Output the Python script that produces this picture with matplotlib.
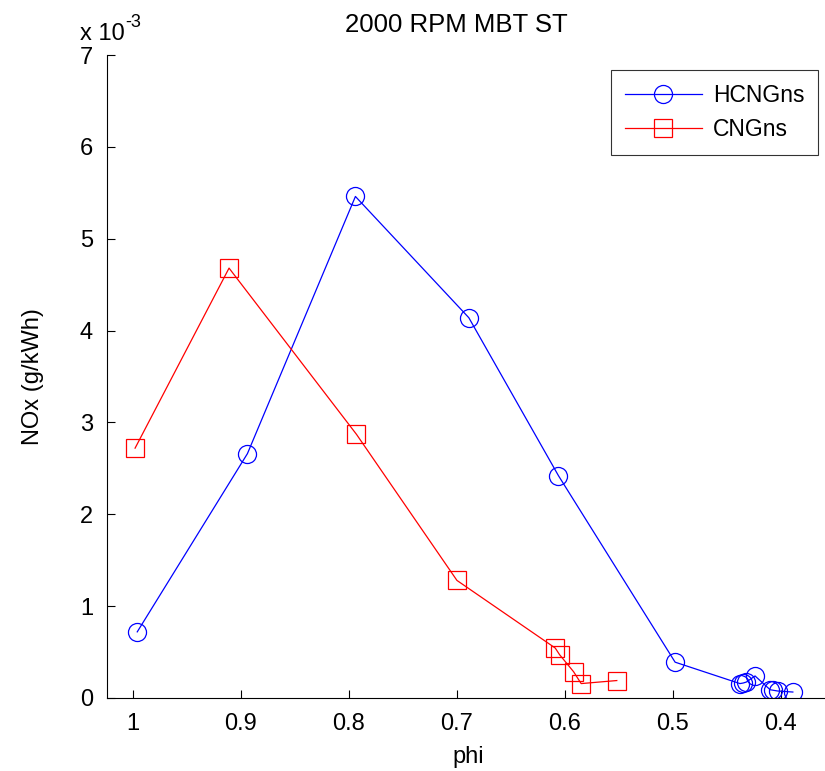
import matplotlib
matplotlib.use("Agg")
import matplotlib.pyplot as plt

plt.rcParams['font.family'] = ['Liberation Sans', 'DejaVu Sans']

hcng_phi = [0.996, 0.894, 0.794, 0.689, 0.606, 0.498, 0.438, 0.435, 0.432, 0.424, 0.410, 0.407, 0.403, 0.389]
hcng_nox = [0.72, 2.66, 5.46, 4.14, 2.42, 0.39, 0.157, 0.163, 0.174, 0.24, 0.09, 0.084, 0.076, 0.065]
cng_phi = [0.998, 0.911, 0.793, 0.700, 0.609, 0.605, 0.592, 0.585, 0.552]
cng_nox = [2.72, 4.68, 2.87, 1.28, 0.544, 0.472, 0.286, 0.157, 0.19]
xticks = [1, 0.9, 0.8, 0.7, 0.6, 0.5, 0.4]
xtick_labels = ['1', '0.9', '0.8', '0.7', '0.6', '0.5', '0.4']

FS = 17
W, H = 825, 771
fig = plt.figure(figsize=(W / 100, H / 100), dpi=100)
ax_l, ax_r, ax_t, ax_b = 107, 830, 55, 698
ax = fig.add_axes([ax_l / W, (H - ax_b) / H, (ax_r - ax_l) / W, (ax_b - ax_t) / H])

ax.plot(hcng_phi, [v * 1e-3 for v in hcng_nox], color='#0000ff', lw=0.9, marker='o',
        ms=13, mfc='none', mec='#0000ff', mew=0.9, label='HCNGns')
ax.plot(cng_phi, [v * 1e-3 for v in cng_nox], color='#ff0000', lw=0.9, marker='s',
        ms=13, mfc='none', mec='#ff0000', mew=0.9, label='CNGns')

ax.set_xlim(1.024, 0.3546)
ax.set_ylim(0, 7e-3)
ax.set_xticks(xticks)
ax.set_xticklabels(xtick_labels)
ax.set_yticks([i * 1e-3 for i in range(8)])
ax.set_yticklabels([str(i) for i in range(8)])
ax.tick_params(direction='in', labelsize=FS, length=6, width=0.8, top=False, right=False)
ax.tick_params(axis='x', pad=11)
ax.tick_params(axis='y', pad=10)
for s in ['top', 'right']:
    ax.spines[s].set_visible(False)
for s in ['left', 'bottom']:
    ax.spines[s].set_linewidth(0.8)

ax.set_xlabel('phi', fontsize=FS, labelpad=8)
ax.set_ylabel('NOx (g/kWh)', fontsize=FS, labelpad=26)
fig.text(456 / W, 1 - 32 / H, '2000 RPM MBT ST', fontsize=18.5, ha='center', va='baseline')
fig.text(80 / W, 1 - 40 / H, 'x 10', fontsize=FS, ha='left', va='baseline')
fig.text(125 / W, 1 - 27 / H, '-3', fontsize=13, ha='left', va='baseline')

leg = ax.legend(loc='upper right', bbox_to_anchor=(818 / W, 1 - 70 / H),
                bbox_transform=fig.transFigure, fontsize=16.5, frameon=True, fancybox=False,
                edgecolor='black', handlelength=3.4, handletextpad=0.45,
                borderpad=0.6, labelspacing=0.5, borderaxespad=0)
leg.get_frame().set_linewidth(0.8)

fig.savefig('out.png', dpi=100)
